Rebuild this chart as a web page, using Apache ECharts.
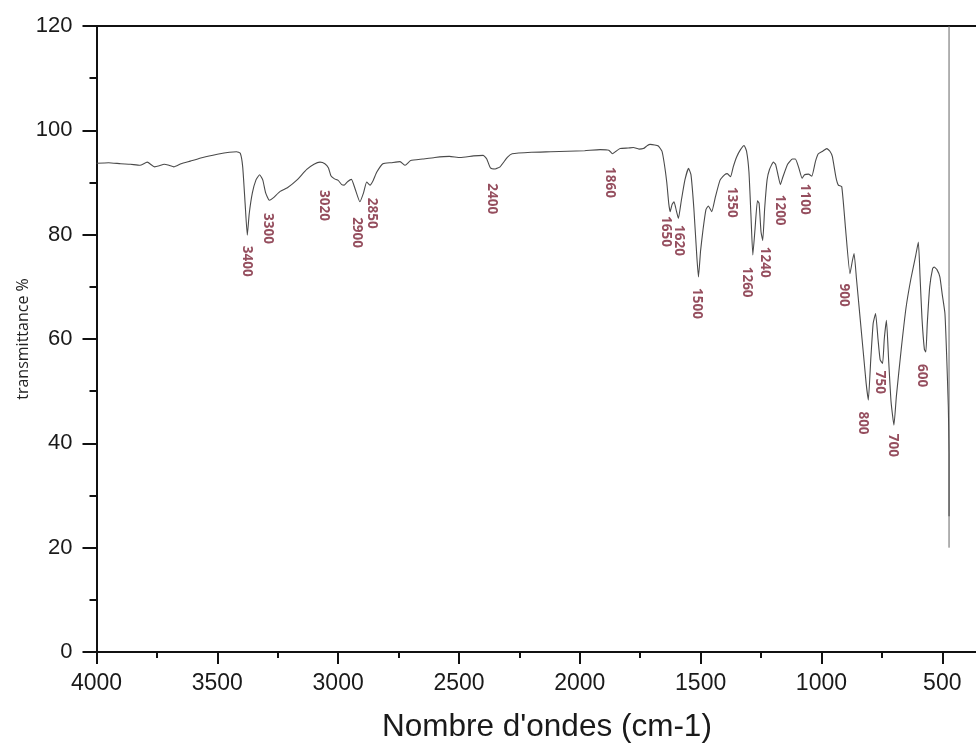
<!DOCTYPE html>
<html>
<head>
<meta charset="utf-8">
<script src="https://cdn.jsdelivr.net/npm/echarts@6/dist/echarts.min.js"></script>
<style>
    html, body { margin: 0; padding: 0; background: #fff; }
    #container { width: 976px; height: 745px; }
</style>
</head>
<body>
<div id="container"></div>
<script>
    // nombre d'ondes (cm-1)
    let waveNumbers = [
        4000, 3950, 3900, 3860, 3820, 3790, 3760, 3740, 3720, 3700, 3680, 3650, 3612, 3560, 3500, 3450, 3420,
        3405, 3395, 3385, 3376, 3368, 3355, 3340, 3325, 3312, 3300, 3285, 3270, 3240, 3210, 3170, 3130, 3100,
        3075, 3055, 3040, 3030, 3015, 3000, 2985, 2975, 2960, 2945, 2930, 2910, 2895, 2882, 2868, 2855, 2840,
        2815, 2780, 2744, 2723, 2700, 2650, 2600, 2540, 2495, 2440, 2400, 2385, 2370, 2350, 2330, 2300, 2280,
        2200, 2120, 2050, 1980, 1916, 1880, 1865, 1850, 1833, 1800, 1778, 1755, 1737, 1720, 1709, 1690, 1675,
        1660, 1650, 1640, 1632, 1626, 1618, 1610, 1600, 1592, 1580, 1565, 1550, 1540, 1528, 1516, 1509, 1500,
        1490, 1478, 1468, 1454, 1440, 1420, 1400, 1390, 1376, 1365, 1351, 1335, 1320, 1310, 1300, 1292, 1284,
        1275, 1265, 1258, 1250, 1243, 1235, 1225, 1215, 1199, 1190, 1180, 1170, 1160, 1140, 1120, 1108, 1095,
        1080, 1070, 1054, 1040, 1025, 1013, 995, 978, 965, 955, 940, 930, 916, 900, 882, 872, 865, 855, 840,
        825, 815, 806, 796, 786, 776, 766, 757, 747, 740, 731, 722, 712, 700, 690, 670, 650, 630, 610, 599,
        592, 584, 574, 568, 562, 552, 540, 534, 522, 510, 500, 489, 482, 475, 472, 472
    ];
    // transmittance %
    let transmittance = [
        93.7, 93.8, 93.6, 93.5, 93.3, 93.9, 93.0, 93.2, 93.5, 93.3, 93.0, 93.6, 94.1, 94.8, 95.4, 95.8, 95.9,
        95.6, 93.0, 86.0, 79.9, 84.0, 88.0, 90.5, 91.5, 90.5, 88.0, 86.6, 87.0, 88.3, 89.0, 90.5, 92.5, 93.5,
        93.9, 93.6, 92.8, 91.3, 90.7, 90.4, 89.6, 89.5, 90.2, 90.6, 88.8, 86.3, 88.0, 90.1, 89.5, 90.4, 92.0,
        93.6, 93.8, 94.0, 93.3, 94.2, 94.5, 94.8, 95.0, 94.8, 95.1, 95.2, 94.5, 92.8, 92.6, 93.0, 94.8, 95.5,
        95.8, 95.9, 96.0, 96.1, 96.3, 96.2, 95.5, 96.0, 96.5, 96.6, 96.7, 96.4, 96.5, 97.1, 97.3, 97.2, 97.0,
        96.0, 93.5, 90.0, 86.0, 84.4, 85.8, 86.3, 84.5, 83.1, 86.5, 90.5, 92.7, 91.5, 85.0, 76.0, 71.9, 77.0,
        81.0, 84.8, 85.5, 84.4, 87.0, 90.4, 91.5, 91.7, 91.1, 93.0, 94.9, 96.3, 97.1, 96.0, 92.0, 84.0, 76.1,
        81.0, 86.5, 86.0, 80.5, 78.9, 85.0, 90.5, 92.5, 93.9, 93.5, 91.5, 89.6, 91.0, 93.5, 94.5, 94.5, 93.0,
        90.8, 91.5, 91.6, 91.2, 94.0, 95.5, 96.0, 96.5, 96.0, 95.0, 91.0, 89.5, 89.2, 81.0, 72.5, 75.0, 76.4, 71.5, 64.0,
        56.5, 51.5, 48.3, 56.0, 63.0, 64.9, 60.0, 56.0, 55.3, 60.0, 63.6, 56.0, 48.0, 43.5, 49.0, 58.0, 66.0, 71.5, 76.0, 78.6,
        72.0, 64.0, 58.0, 57.5, 63.0, 70.0, 73.5, 73.8, 73.3, 71.9, 68.5, 64.9, 57.0, 47.0, 38.0, 26.0
    ];

    // trait vertical a droite (~470 cm-1)
    let edgeX = [472, 472];
    let edgeY = [20, 120];

    // annotations des bandes
    let peakLabels = ['3400', '3300', '3020', '2900', '2850', '2400', '1860', '1650', '1620', '1500',
        '1350', '1260', '1240', '1200', '1100', '900', '800', '750', '700', '600'];
    let peakX = [3377, 3290, 3058, 2921, 2859, 2363, 1875, 1643, 1589, 1515,
        1370, 1308, 1233, 1171, 1068, 906, 828, 757, 704, 584];
    let peakY = [74.9, 81.2, 85.6, 80.4, 84.1, 86.9, 90.0, 80.6, 78.9, 66.8,
        86.2, 70.9, 74.7, 84.7, 86.8, 68.4, 43.9, 51.7, 39.6, 53.0];

    let yTicks = [0, 20, 40, 60, 80, 100, 120];

    function zip(a, b) {
        let out = [];
        for (let i = 0; i < a.length; i++) {
            out.push([a[i], b[i]]);
        }
        return out;
    }

    let chartDom = document.getElementById('container');
    let myChart = echarts.init(chartDom);

    let axisFont = 'Liberation Sans, Arial, sans-serif';

    let option = {
        animation: false,
        backgroundColor: '#fff',
        title: {
            text: "Nombre d'ondes (cm-1)",
            left: 377,
            top: 706,
            textStyle: {
                fontFamily: axisFont,
                fontSize: 31.5,
                fontWeight: 'normal',
                color: '#1a1a1a'
            }
        },
        grid: {
            // la grille depasse le bord droit (axe coupe vers ~360 cm-1)
            left: 96.5,
            width: 966.6,
            top: 26,
            height: 626,
            outerBoundsMode: 'none',
            containLabel: false
        },
        xAxis: [{
            type: 'value',
            inverse: true,
            min: 0,
            max: 4000,
            interval: 500,
            axisLine: { show: true, onZero: false, lineStyle: { color: '#111', width: 2 } },
            axisTick: { show: true, inside: false, length: 12, lineStyle: { color: '#111', width: 2 } },
            minorTick: { show: true, splitNumber: 2, length: 6, lineStyle: { color: '#111', width: 2 } },
            splitLine: { show: false },
            axisLabel: {
                margin: 20,
                fontFamily: axisFont,
                fontSize: 23,
                color: '#1a1a1a',
                formatter: function (value) {
                    return value === 0 ? '' : String(value);
                }
            }
        }, {
            // bordure du haut
            type: 'value',
            position: 'top',
            inverse: true,
            min: 0,
            max: 4000,
            axisLine: { show: true, onZero: false, lineStyle: { color: '#111', width: 2 } },
            axisTick: { show: false },
            axisLabel: { show: false },
            splitLine: { show: false }
        }],
        yAxis: {
            type: 'value',
            min: 0,
            max: 120,
            interval: 20,
            name: 'transmittance %',
            nameLocation: 'middle',
            nameGap: 65,
            nameMoveOverlap: false,
            nameTextStyle: {
                fontFamily: 'Open Sans, sans-serif',
                fontSize: 16,
                color: '#222'
            },
            axisLine: { show: true, onZero: false, lineStyle: { color: '#111', width: 2 } },
            axisTick: { show: true, length: 14, lineStyle: { color: '#111', width: 2 } },
            minorTick: { show: true, splitNumber: 2, length: 7, lineStyle: { color: '#111', width: 2 } },
            splitLine: { show: false },
            axisLabel: {
                margin: 24,
                fontFamily: axisFont,
                fontSize: 22,
                color: '#1a1a1a',
                formatter: function (value) {
                    return yTicks.indexOf(value) >= 0 ? String(value) : '';
                }
            }
        },
        series: [{
            name: 'spectre',
            type: 'line',
            xAxisIndex: 0,
            data: zip(waveNumbers, transmittance),
            showSymbol: false,
            smooth: 0.15,
            lineStyle: { color: '#4a4a4a', width: 1.1 },
            z: 3
        }, {
            name: 'bord',
            type: 'line',
            xAxisIndex: 0,
            data: zip(edgeX, edgeY),
            showSymbol: false,
            lineStyle: { color: '#666', width: 1 },
            z: 2
        }, {
            name: 'bandes',
            type: 'scatter',
            xAxisIndex: 0,
            symbolSize: 0,
            data: peakLabels.map(function (lbl, i) {
                return { name: lbl, value: [peakX[i], peakY[i]] };
            }),
            label: {
                show: true,
                position: 'inside',
                rotate: -90,
                formatter: function (p) { return p.name; },
                fontFamily: 'Noto Sans, Open Sans, sans-serif',
                fontSize: 13.5,
                fontWeight: 'bold',
                color: '#7a2236'
            },
            z: 4
        }]
    };

    myChart.setOption(option, true);
</script>
</body>
</html>
